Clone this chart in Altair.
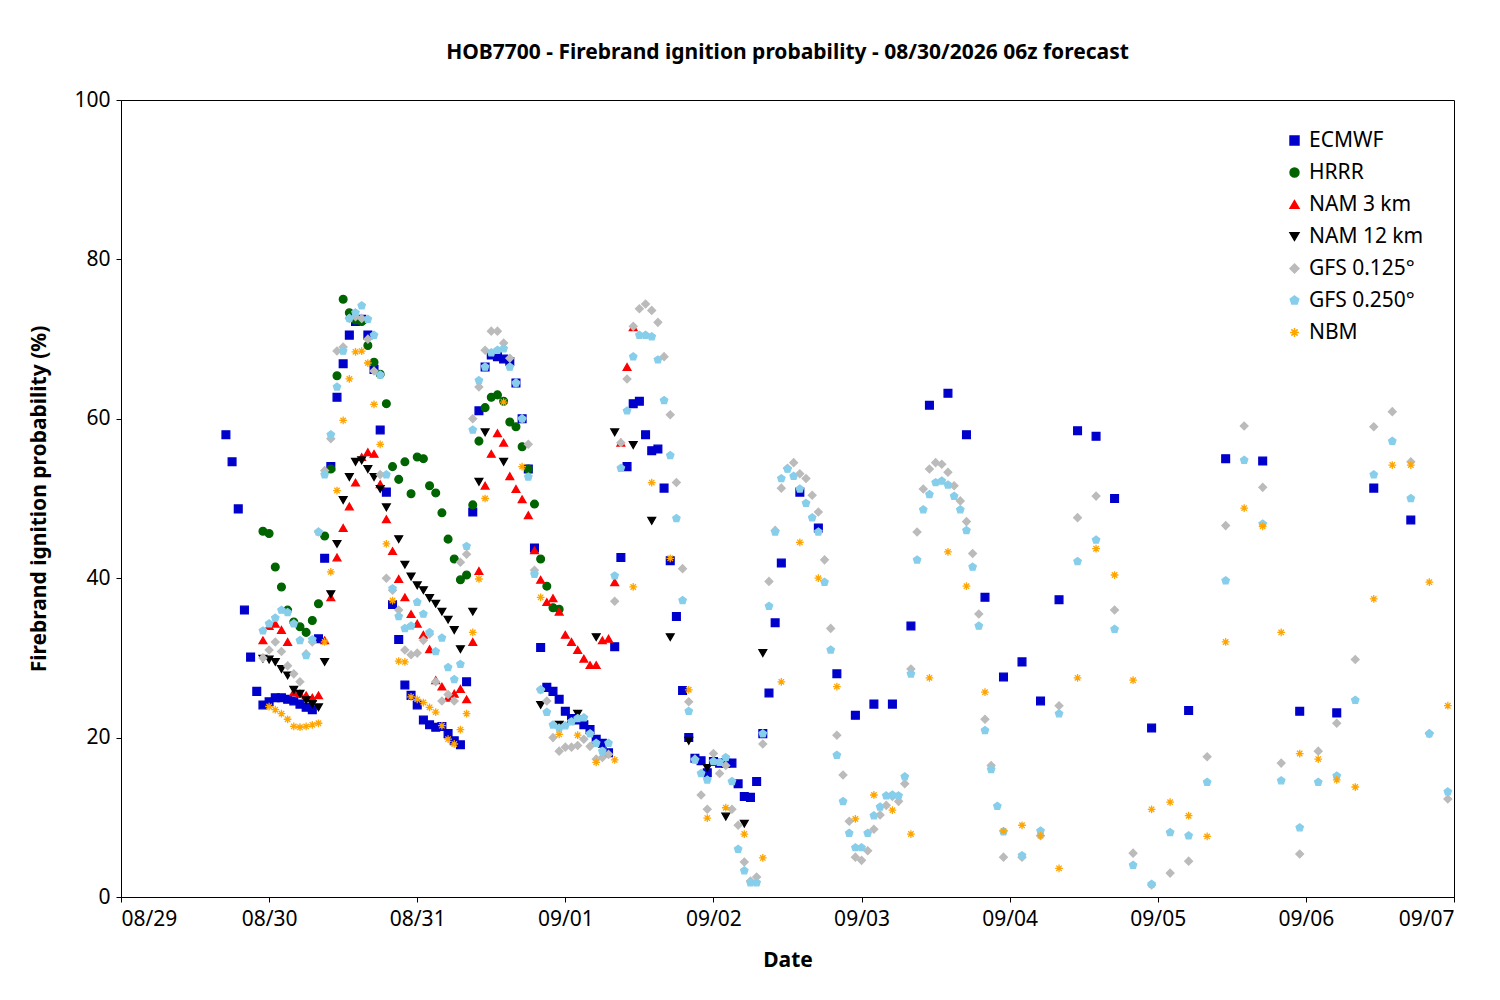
import pandas as pd
import altair as alt

# hours since 08/29 00z and firebrand ignition probability (%) per model
ecmwf_h = list(range(17, 108)) + list(range(110, 162, 3)) + list(range(167, 210, 6))
ecmwf_v = [58, 54.6, 48.7, 36, 30.1, 25.8, 24.1, 24.5, 25, 25, 24.8, 24.6, 24.2, 23.8, 23.5,
           32.4, 42.5, 54, 62.7, 66.9, 70.5, 72.2, 72.5, 70.5, 66.2, 58.6, 50.8, 36.7, 32.3,
           26.6, 25.3, 24.1, 22.2, 21.6, 21.3, 21.4, 20.5, 19.6, 19.1, 27, 48.3, 61, 66.5, 68,
           67.8, 67.5, 67.2, 64.5, 60, 53.7, 43.8, 31.3, 26.3, 25.8, 24.8, 23.3, 22.4, 22.2,
           21.6, 21, 19.8, 19.3, 18.1, 31.4, 42.6, 54, 61.9, 62.2, 58, 56, 56.2, 51.3, 42.2,
           35.2, 25.9, 20, 17.4, 17.1, 15.6, 17, 16.8, 16.8, 16.8, 14.2, 12.6, 12.5, 14.5,
           20.5, 25.6, 34.4, 41.9,
           50.8, 46.3, 28, 22.8, 24.2, 24.2, 34, 61.7, 63.2, 58, 37.6, 27.6, 29.5, 24.6,
           37.3, 58.5, 57.8, 50,
           21.2, 23.4, 55, 54.7, 23.3, 23.1, 51.3, 47.3]

hrrr_h = list(range(23, 72))
hrrr_v = [45.9, 45.6, 41.4, 38.9, 36, 34.5, 33.9, 33.2, 34.7, 36.8, 45.3, 53.7, 65.4, 75,
          73.3, 72.4, 72.2, 69.2, 67.1, 65.6, 61.9, 54, 52.4, 54.6, 50.6, 55.2, 55, 51.6,
          50.7, 48.2, 44.9, 42.4, 39.8, 40.4, 49.2, 57.2, 61.4, 62.7, 63, 62.2, 59.6, 59,
          56.5, 53.7, 49.3, 42.4, 39, 36.3, 36.1]

nam3_h = list(range(23, 84))
nam3_v = [32.2, 34, 34.3, 33.5, 32, 25.7, 25.5, 25.3, 25, 25.3, 32.2, 37.6, 42.6, 46.3, 49,
          52, 55.2, 55.8, 55.6, 51.8, 47.4, 43.4, 39.9, 37.6, 35.5, 34.3, 32.9, 31.1, 27.2,
          26.4, 25, 25.5, 26.1, 24.8, 32, 40.9, 51.6, 55.6, 58.2, 57, 52.8, 51.2, 49.9,
          47.9, 43.5, 39.8, 37, 37.5, 35.8, 32.9, 32, 31, 29.9, 29.1, 29.1, 32.2, 32.4,
          39.5, 57, 66.5, 71.5]

nam12_h = list(range(23, 44)) + list(range(45, 56)) + [57, 58, 59, 62] + list(range(68, 105, 3))
nam12_v = [29.9, 29.8, 29.5, 28.6, 27.8, 26, 25.5, 24.7, 24.2, 23.8, 29.5, 38, 44.3, 49.8,
           52.7, 54.6, 54.8, 53.7, 52.7, 51.2, 48.9,
           44.9, 41.7, 40.2, 39.1, 38.5, 37.5, 36.8, 35.8, 34.8, 33.5, 31.1,
           35.8, 52.1, 58.3, 54.6,
           24.1, 21.6, 23, 32.6, 58.3, 56.7, 47.2, 32.6, 19.6, 16.2, 10.1, 9.2, 30.6]

gfs125_h = list(range(23, 142)) + list(range(143, 216, 3))
gfs125_v = [30, 31, 32, 30.8, 29, 28, 27, 30.5, 32, 45.8, 53.5, 57.5, 68.5, 69, 72.6, 72.8,
            72.6, 70, 66, 53, 40, 38.5, 36, 31, 30.4, 30.6, 32.2, 33, 27, 24.6, 25.4, 24.6,
            42, 43, 60, 64, 68.6, 71, 71, 69.5, 67.6, 64.5, 60, 56.8, 41, 26, 24.6, 20, 18.3,
            18.8, 18.8, 19, 19.8, 18.9, 17.3, 17.5, 17.9, 37.1, 57, 65, 71.6, 73.8, 74.4,
            73.6, 72.1, 67.8, 60.5, 52, 41.2, 24.5, 17.3, 12.8, 11, 18, 15.5, 16.5, 11, 9,
            4.4, 2, 2.5, 19.2, 39.6, 46, 51.3, 53.8, 54.5, 53.1, 52.5, 50.4, 48.3, 42.3,
            33.7, 20.3, 15.3, 9.5, 5, 4.6, 5.8, 8.5, 10.3, 11.5, 12.6, 12, 14.2, 28.6, 45.8,
            51.2, 53.7, 54.5, 54.3, 53.3, 51.6, 49.7, 47.1, 43.1, 35.5, 22.3, 16.5,
            5, 5, 7.7, 24, 47.6, 50.3, 36, 5.5, 1.5, 3, 4.5, 17.6, 46.6, 59.1, 51.4, 16.8,
            5.4, 18.3, 21.8, 29.8, 59, 60.9, 54.6, 20.5, 12.3]

gfs250_h = list(range(23, 144)) + list(range(146, 216, 3))
gfs250_v = [33.4, 34.3, 35, 36, 35.7, 34.3, 32.2, 30.3, 32.3, 45.8, 53, 58, 64, 68.5, 72.6,
            73.3, 74.2, 72.5, 70.5, 65.5, 53, 38.7, 35.2, 33.7, 34, 37, 35.5, 33.2, 30.8,
            32.5, 28.8, 27.3, 29.2, 44, 58.6, 64.8, 66.5, 68.3, 68.6, 68.8, 66.5, 64.5, 60,
            52.7, 40.5, 26, 23.2, 21.6, 21.2, 21.5, 22, 22.4, 22.5, 20.5, 19.3, 18.3, 19.3,
            40.3, 53.8, 61, 67.8, 70.5, 70.5, 70.3, 67.4, 62.3, 55.4, 47.5, 37.2, 23.3, 17.2,
            15.5, 14.7, 17, 16.9, 17.5, 14.5, 6, 3.3, 1.8, 1.8, 20.5, 36.5, 45.8, 52.5, 53.7,
            52.8, 51.2, 49.4, 47.6, 45.8, 39.5, 31, 17.8, 12, 8, 6.2, 6.2, 8, 10.2, 11.3, 12.7,
            12.8, 12.7, 15.1, 28, 42.3, 48.6, 50.5, 52, 52.2, 51.7, 50.3, 48.6, 46, 41.4, 34,
            20.9, 16, 11.4, 8.2,
            5.2, 8.3, 23, 42.1, 44.8, 33.6, 4, 1.6, 8.1, 7.7, 14.4, 39.7, 54.8, 46.8, 14.6,
            8.7, 14.4, 15.2, 24.7, 53, 57.2, 50, 20.5, 13.2]

nbm_h = list(range(24, 59)) + list(range(59, 216, 3))
nbm_v = [23.9, 23.5, 23, 22.3, 21.4, 21.3, 21.4, 21.6, 21.8, 32, 40.8, 51, 59.8, 65, 68.4,
         68.5, 67, 61.8, 56.8, 44.3, 37.2, 29.6, 29.5, 25.1, 24.8, 24.4, 23.8, 23.2, 21.5,
         19.8, 19.2, 21, 23, 33.2, 39.9,
         50, 62.1, 54, 37.6, 20.4, 20.3, 16.9, 17.2, 38.9, 52, 42.5, 26, 9.9, 11.2, 7.9, 4.9,
         27, 44.5, 40, 26.4, 9.8, 12.8, 10.9, 7.9, 27.5, 43.3, 39, 25.7, 8.3, 9, 7.7, 3.6,
         27.5, 43.7, 40.4, 27.2, 11, 11.9, 10.2, 7.6, 32, 48.8, 46.5, 33.2, 18, 17.3, 14.7,
         13.8, 37.4, 54.2, 54.2, 39.5, 24]

models = ["ECMWF", "HRRR", "NAM 3 km", "NAM 12 km", "GFS 0.125°", "GFS 0.250°", "NBM"]
colors = ["#0000cc", "#006400", "#ff0000", "#000000", "#bbbbbb", "#87ceeb", "#ffa500"]
pentagon = "M0,-1L0.95,-0.31L0.59,0.81L-0.59,0.81L-0.95,-0.31Z"
asterisk = "M-1,0L1,0M0,-1L0,1M-0.7,-0.7L0.7,0.7M-0.7,0.7L0.7,-0.7"
shapes = ["square", "circle", "triangle-up", "triangle-down", "diamond", pentagon, asterisk]
date_labels = ["08/29", "08/30", "08/31", "09/01", "09/02", "09/03", "09/04", "09/05",
               "09/06", "09/07"]

series = [(ecmwf_h, ecmwf_v), (hrrr_h, hrrr_v), (nam3_h, nam3_v), (nam12_h, nam12_v),
          (gfs125_h, gfs125_v), (gfs250_h, gfs250_v), (nbm_h, nbm_v)]
frames = []
for name, (h, v) in zip(models, series):
    n = min(len(h), len(v))
    frames.append(pd.DataFrame({"hour": h[:n], "p": v[:n], "model": name}))
df = pd.concat(frames)

label_expr = "[" + ",".join(f"'{d}'" for d in date_labels) + "][round(datum.value / 24)]"

chart = alt.Chart(df).mark_point(filled=True, size=60, strokeWidth=1.3, opacity=1).encode(
    x=alt.X("hour:Q", title="Date", scale=alt.Scale(domain=[0, 216], nice=False),
            axis=alt.Axis(values=list(range(0, 217, 24)), labelExpr=label_expr)),
    y=alt.Y("p:Q", title="Firebrand ignition probability (%)",
            scale=alt.Scale(domain=[0, 100], nice=False),
            axis=alt.Axis(values=list(range(0, 101, 20)))),
    color=alt.Color("model:N", scale=alt.Scale(domain=models, range=colors), title=None,
                    legend=alt.Legend(orient="top-right", labelFontSize=21, symbolSize=80,
                                      rowPadding=10, padding=12)),
    stroke=alt.Stroke("model:N", scale=alt.Scale(domain=models, range=colors), legend=None),
    shape=alt.Shape("model:N", scale=alt.Scale(domain=models, range=shapes), title=None),
).properties(
    width=1333, height=797,
    padding={"left": 20, "top": 34, "right": 20, "bottom": 10},
    title=alt.TitleParams("HOB7700 - Firebrand ignition probability - 08/30/2026 06z forecast",
                          fontSize=21, fontWeight="bold", offset=26),
).configure_axis(
    grid=False, labelFontSize=21, titleFontSize=21, titleFontWeight="bold",
    domainColor="black", tickColor="black", labelColor="black", labelFont="Noto Sans",
    titleFont="Noto Sans", labelPadding=6,
).configure_axisY(titlePadding=24).configure_axisX(titlePadding=20).configure_legend(
    labelFont="Noto Sans"
).configure_title(font="Noto Sans").configure_view(stroke="black")

chart.save("out.html", embed_options={"renderer": "svg", "actions": False})
